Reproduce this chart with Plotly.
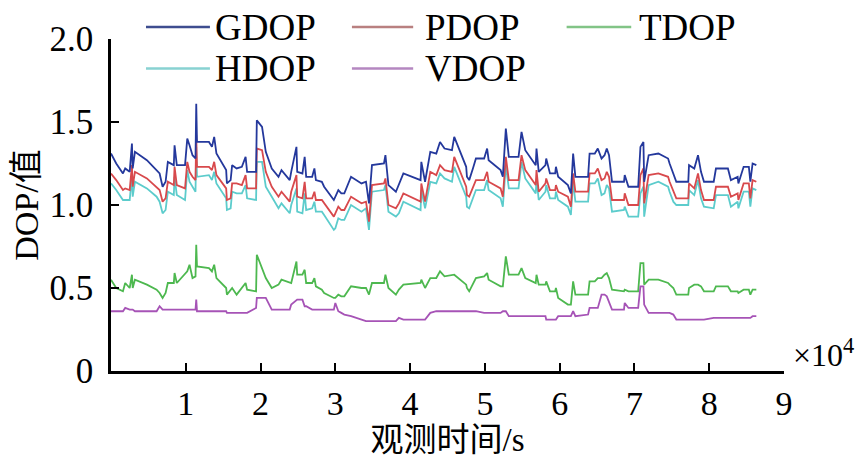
import plotly.graph_objects as go

# observation time in seconds (x axis shown in units of 10^4 s)
time_s = [0, 700, 1600, 1900, 2500, 2800, 2900, 3200, 4800, 6100,
          6500, 6900, 7300, 7600, 8400, 8500, 8800, 9900, 10200, 10500,
          10900, 11300, 11400, 11500, 13100, 13500, 13800, 14100, 15400, 15500,
          16000, 16200, 16800, 17500, 18000, 18200, 19400, 19500, 20200, 20700,
          21500, 22400, 22800, 23900, 24100, 24800, 24900, 25600, 25900, 26100,
          26900, 27200, 27400, 28200, 28500, 29800, 30000, 30400, 30800, 31200,
          32100, 33500, 34100, 34500, 34900, 36500, 36700, 37100, 38100, 38500,
          39100, 41400, 41500, 42000, 42700, 43500, 44000, 44600, 45600, 45900,
          47500, 47600, 47900, 48400, 48800, 49900, 50300, 50500, 52100, 52400,
          52800, 53200, 54500, 54900, 55400, 56800, 56900, 57200, 58100, 58200,
          58700, 59400, 59500, 59800, 61100, 61500, 61800, 62100, 63800, 64000,
          64700, 65100, 65600, 66000, 66300, 66600, 67000, 68600, 68700, 69200,
          70500, 70800, 71200, 71300, 71900, 73200, 74500, 74700, 75200, 75600,
          77200, 77300, 78000, 78500, 78900, 79300, 80600, 80900, 82500, 82900,
          83800, 83900, 84600, 85300, 85500, 85800, 86300]

gdop = [1.31, 1.25, 1.19, 1.22, 1.20, 1.37, 1.22, 1.32, 1.27, 1.21,
        1.19, 1.11, 1.14, 1.26, 1.24, 1.36, 1.24, 1.24, 1.40, 1.36,
        1.30, 1.28, 1.61, 1.38, 1.38, 1.35, 1.41, 1.31, 1.21, 1.13,
        1.15, 1.24, 1.22, 1.23, 1.29, 1.20, 1.20, 1.51, 1.47, 1.32,
        1.22, 1.17, 1.21, 1.15, 1.20, 1.35, 1.20, 1.19, 1.29, 1.17,
        1.17, 1.22, 1.15, 1.14, 1.11, 1.03, 1.05, 1.09, 1.07, 1.07,
        1.17, 1.13, 1.14, 1.01, 1.24, 1.25, 1.30, 1.12, 1.08, 1.12,
        1.19, 1.15, 1.26, 1.14, 1.32, 1.31, 1.38, 1.34, 1.33, 1.41,
        1.23, 1.17, 1.15, 1.22, 1.28, 1.28, 1.34, 1.27, 1.21, 1.17,
        1.46, 1.29, 1.29, 1.44, 1.33, 1.24, 1.34, 1.20, 1.24, 1.28,
        1.19, 1.19, 1.23, 1.17, 1.12, 1.07, 1.31, 1.17, 1.17, 1.31,
        1.31, 1.34, 1.28, 1.30, 1.34, 1.30, 1.14, 1.14, 1.18, 1.11,
        1.11, 1.35, 1.38, 1.14, 1.30, 1.31, 1.28, 1.25, 1.19, 1.14,
        1.14, 1.24, 1.22, 1.30, 1.20, 1.14, 1.14, 1.22, 1.22, 1.15,
        1.17, 1.13, 1.23, 1.23, 1.14, 1.25, 1.24]

pdop = [1.19, 1.15, 1.09, 1.10, 1.09, 1.24, 1.11, 1.20, 1.16, 1.11,
        1.09, 1.02, 1.04, 1.14, 1.12, 1.23, 1.12, 1.10, 1.26, 1.20,
        1.17, 1.15, 1.42, 1.23, 1.23, 1.21, 1.26, 1.18, 1.10, 1.03,
        1.04, 1.13, 1.13, 1.12, 1.18, 1.10, 1.10, 1.34, 1.33, 1.20,
        1.11, 1.05, 1.08, 1.02, 1.08, 1.18, 1.05, 1.04, 1.14, 1.04,
        1.04, 1.08, 1.03, 1.03, 1.01, 0.93, 0.95, 0.99, 0.97, 0.97,
        1.05, 1.01, 1.02, 0.90, 1.12, 1.13, 1.16, 1.00, 0.98, 1.01,
        1.07, 1.02, 1.13, 1.02, 1.20, 1.18, 1.24, 1.21, 1.20, 1.29,
        1.11, 1.06, 1.05, 1.10, 1.15, 1.15, 1.20, 1.14, 1.10, 1.05,
        1.29, 1.15, 1.15, 1.30, 1.21, 1.12, 1.21, 1.08, 1.13, 1.16,
        1.09, 1.09, 1.12, 1.08, 1.05, 0.99, 1.19, 1.08, 1.08, 1.19,
        1.19, 1.22, 1.15, 1.16, 1.20, 1.17, 1.03, 1.03, 1.07, 1.00,
        1.00, 1.18, 1.22, 1.01, 1.18, 1.19, 1.17, 1.14, 1.08, 1.04,
        1.04, 1.13, 1.10, 1.19, 1.09, 1.03, 1.03, 1.11, 1.11, 1.05,
        1.07, 1.03, 1.13, 1.13, 1.04, 1.15, 1.14]

tdop = [0.55, 0.50, 0.48, 0.53, 0.50, 0.58, 0.50, 0.55, 0.52, 0.49,
        0.47, 0.44, 0.47, 0.53, 0.53, 0.59, 0.53, 0.58, 0.60, 0.64,
        0.56, 0.57, 0.76, 0.63, 0.62, 0.60, 0.64, 0.56, 0.50, 0.46,
        0.49, 0.50, 0.46, 0.50, 0.53, 0.49, 0.48, 0.70, 0.62, 0.56,
        0.50, 0.52, 0.55, 0.53, 0.53, 0.66, 0.58, 0.58, 0.61, 0.53,
        0.53, 0.56, 0.51, 0.49, 0.47, 0.44, 0.44, 0.46, 0.45, 0.45,
        0.51, 0.50, 0.50, 0.46, 0.53, 0.53, 0.58, 0.50, 0.46, 0.49,
        0.52, 0.53, 0.55, 0.50, 0.56, 0.56, 0.60, 0.57, 0.58, 0.58,
        0.52, 0.50, 0.48, 0.52, 0.56, 0.57, 0.59, 0.55, 0.51, 0.51,
        0.69, 0.58, 0.58, 0.62, 0.56, 0.53, 0.58, 0.52, 0.52, 0.54,
        0.48, 0.48, 0.50, 0.44, 0.40, 0.40, 0.54, 0.46, 0.46, 0.54,
        0.54, 0.56, 0.56, 0.58, 0.59, 0.56, 0.49, 0.48, 0.49, 0.48,
        0.48, 0.65, 0.65, 0.52, 0.55, 0.55, 0.53, 0.52, 0.50, 0.46,
        0.46, 0.50, 0.52, 0.52, 0.51, 0.48, 0.48, 0.51, 0.51, 0.48,
        0.48, 0.47, 0.49, 0.49, 0.46, 0.49, 0.49]

hdop = [1.13, 1.09, 1.03, 1.03, 1.03, 1.18, 1.05, 1.14, 1.10, 1.05,
        1.02, 0.95, 0.97, 1.08, 1.06, 1.17, 1.06, 1.03, 1.21, 1.14,
        1.11, 1.08, 1.35, 1.17, 1.18, 1.15, 1.20, 1.13, 1.04, 0.97,
        0.98, 1.08, 1.07, 1.07, 1.12, 1.04, 1.03, 1.26, 1.26, 1.11,
        1.05, 0.98, 1.01, 0.95, 1.00, 1.10, 0.96, 0.95, 1.07, 0.97,
        0.98, 1.02, 0.96, 0.96, 0.94, 0.85, 0.86, 0.92, 0.91, 0.91,
        1.00, 0.96, 0.98, 0.85, 1.08, 1.09, 1.12, 0.96, 0.93, 0.95,
        1.02, 0.97, 1.09, 0.98, 1.14, 1.13, 1.19, 1.16, 1.14, 1.23,
        1.05, 0.99, 0.98, 1.04, 1.09, 1.09, 1.15, 1.09, 1.04, 0.99,
        1.24, 1.10, 1.10, 1.26, 1.16, 1.07, 1.16, 1.03, 1.08, 1.12,
        1.04, 1.04, 1.08, 1.03, 0.99, 0.94, 1.14, 1.02, 1.02, 1.13,
        1.13, 1.16, 1.06, 1.07, 1.12, 1.10, 0.96, 0.97, 0.99, 0.93,
        0.93, 1.07, 1.11, 0.93, 1.12, 1.14, 1.11, 1.08, 1.02, 1.00,
        1.00, 1.09, 1.06, 1.15, 1.04, 0.99, 0.98, 1.06, 1.06, 0.99,
        1.02, 0.98, 1.08, 1.08, 0.99, 1.10, 1.09]

vdop = [0.36, 0.36, 0.36, 0.38, 0.37, 0.37, 0.37, 0.36, 0.36, 0.36,
        0.39, 0.37, 0.37, 0.37, 0.37, 0.37, 0.37, 0.37, 0.37, 0.37,
        0.37, 0.37, 0.43, 0.36, 0.36, 0.36, 0.36, 0.36, 0.36, 0.35,
        0.35, 0.35, 0.35, 0.35, 0.35, 0.35, 0.38, 0.44, 0.44, 0.44,
        0.37, 0.37, 0.37, 0.37, 0.40, 0.43, 0.43, 0.43, 0.39, 0.39,
        0.37, 0.37, 0.37, 0.37, 0.37, 0.37, 0.41, 0.36, 0.35, 0.34,
        0.33, 0.31, 0.30, 0.30, 0.30, 0.30, 0.30, 0.30, 0.30, 0.32,
        0.31, 0.31, 0.31, 0.31, 0.35, 0.36, 0.36, 0.36, 0.36, 0.36,
        0.36, 0.36, 0.36, 0.36, 0.36, 0.35, 0.35, 0.35, 0.35, 0.36,
        0.36, 0.33, 0.33, 0.33, 0.33, 0.33, 0.33, 0.33, 0.33, 0.31,
        0.31, 0.31, 0.31, 0.33, 0.33, 0.33, 0.36, 0.33, 0.34, 0.38,
        0.38, 0.38, 0.46, 0.46, 0.45, 0.41, 0.37, 0.37, 0.41, 0.38,
        0.38, 0.51, 0.51, 0.40, 0.35, 0.35, 0.35, 0.35, 0.34, 0.31,
        0.31, 0.31, 0.31, 0.31, 0.31, 0.31, 0.32, 0.32, 0.32, 0.32,
        0.32, 0.32, 0.32, 0.32, 0.32, 0.33, 0.33]

x_ticks = [10000, 20000, 30000, 40000, 50000, 60000, 70000, 80000, 90000]
x_tick_text = ["1", "2", "3", "4", "5", "6", "7", "8", "9"]
y_ticks = [0, 0.5, 1.0, 1.5, 2.0]
y_tick_text = ["0", "0.5", "1.0", "1.5", "2.0"]

names = ["GDOP", "PDOP", "TDOP", "HDOP", "VDOP"]
series = [gdop, pdop, tdop, hdop, vdop]
line_colors = ["#24389c", "#d8494c", "#4db84f", "#5ccccc", "#a653b6"]
key_colors = ["#3e4d8f", "#b98080", "#82c486", "#88d2d2", "#b487c0"]

FONT = "Liberation Serif, Times New Roman, Noto Sans CJK SC, serif"


def make_traces(fig):
    # draw order: cyan under red under blue
    for i in [3, 1, 0, 2, 4]:
        fig.add_trace(go.Scatter(
            x=time_s, y=series[i], mode="lines", name=names[i],
            line=dict(color=line_colors[i], width=1.8),
            showlegend=False))


def make_key(fig):
    # hand placed legend: 3 columns, 2 rows
    cols = [(0.052, 0.147, 0.152), (0.358, 0.449, 0.464), (0.677, 0.773, 0.781)]
    rows = [1.036, 0.911]
    for i, name in enumerate(names):
        x0, x1, xt = cols[i % 3]
        yy = rows[i // 3]
        fig.add_shape(type="line", xref="paper", yref="paper",
                      x0=x0, x1=x1, y0=yy, y1=yy,
                      line=dict(color=key_colors[i], width=2.5))
        fig.add_annotation(text=name, xref="paper", yref="paper",
                           x=xt, y=yy, xanchor="left", yanchor="middle",
                           showarrow=False, font=dict(size=37, color="black"))


def main():
    fig = go.Figure()
    make_traces(fig)
    make_key(fig)

    fig.add_annotation(text="×10<sup>4</sup>", xref="paper", yref="paper",
                       x=1.01, y=0.055, xanchor="left", yanchor="middle",
                       showarrow=False, font=dict(size=32, color="black"))

    fig.update_layout(
        width=856, height=458,
        margin=dict(l=97, r=80, t=25, b=95),
        plot_bgcolor="white", paper_bgcolor="white",
        font=dict(family=FONT, size=34, color="black"),
        showlegend=False,
    )
    fig.update_xaxes(
        range=[0, 90000], tickvals=x_ticks, ticktext=x_tick_text,
        ticks="inside", ticklen=8, tickwidth=2, tickcolor="black",
        showline=True, linecolor="black", linewidth=2.5,
        showgrid=False, zeroline=False,
        tickfont=dict(size=34), ticklabelstandoff=0,
        title=dict(text="观测时间/s", font=dict(size=33), standoff=0),
    )
    fig.update_yaxes(
        range=[0, 2.0], tickvals=y_ticks, ticktext=y_tick_text,
        ticks="inside", ticklen=8, tickwidth=2, tickcolor="black",
        showline=True, linecolor="black", linewidth=2.5,
        showgrid=False, zeroline=False,
        tickfont=dict(size=35), ticklabelstandoff=8,
        title=dict(text="DOP/值", font=dict(size=34), standoff=6),
    )
    fig.write_html("out.html")


if __name__ == "__main__":
    main()
